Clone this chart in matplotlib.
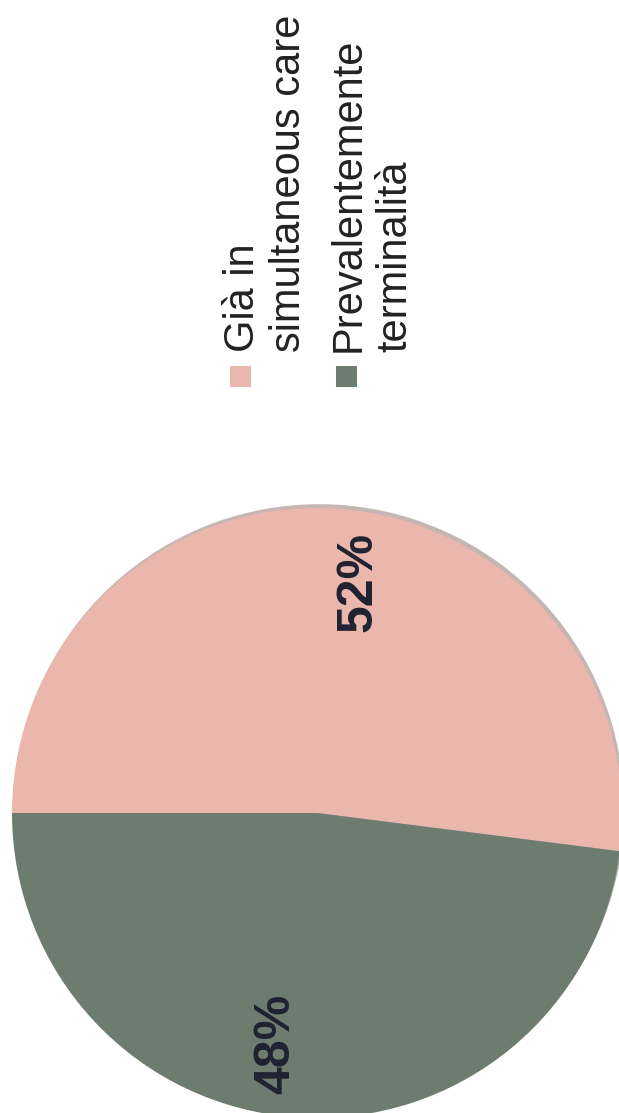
import numpy as np
import matplotlib
matplotlib.use("Agg")
import matplotlib.pyplot as plt
from matplotlib.patches import Rectangle

# Data
categories = ["Già in\nsimultaneous care", "Prevalentemente\nterminalità"]
shares = [52, 48]
colors = ["#EBB7AD", "#6C7D70"]

W, H = 619, 1113
fig = plt.figure(figsize=(W / 100, H / 100), dpi=100)
fig.patch.set_facecolor("white")

# Pie axes (square in pixels)
cx, cy, r = 317, 813, 305
ax = fig.add_axes([(cx - r) / W, (H - cy - r) / H, 2 * r / W, 2 * r / H])

wedges, _, autotexts = ax.pie(
    shares,
    colors=colors,
    startangle=180,
    counterclock=False,
    radius=1.0,
    autopct=lambda p: f"{p:.0f}%",
    pctdistance=0.77,
    shadow={"ox": 0.005, "oy": 0.009, "shade": 0.4},
    wedgeprops=dict(linewidth=0),
    textprops=dict(family="Liberation Sans", fontweight="bold",
                   fontsize=36, color="#1F2232"),
)
ax.set_xlim(-1, 1)
ax.set_ylim(-1, 1)
ax.set_aspect("equal")
ax.axis("off")

# Percentage labels, rotated with the layout
label_r, label_shift = 0.77, -6.5
for w, t in zip(wedges, autotexts):
    th = np.deg2rad((w.theta1 + w.theta2) / 2 + label_shift)
    t.set_position((label_r * np.cos(th), label_r * np.sin(th)))
    t.set_rotation(90)
    t.set_ha("center")
    t.set_va("center")

# Legend, laid out vertically (rotated text)
legend_x = [230, 336]
sq = 21
for x0, lab, col in zip(legend_x, categories, colors):
    fig.patches.append(Rectangle((x0 / W, (H - 387) / H), sq / W, sq / H,
                                 transform=fig.transFigure, facecolor=col,
                                 edgecolor="none"))
    fig.text((x0 - 7) / W, (H - 352) / H, lab, rotation=90,
             ha="left", va="bottom", family="Liberation Sans",
             fontsize=30, color="#222222", linespacing=1.2)

fig.savefig("out.png", dpi=100, facecolor="white")
